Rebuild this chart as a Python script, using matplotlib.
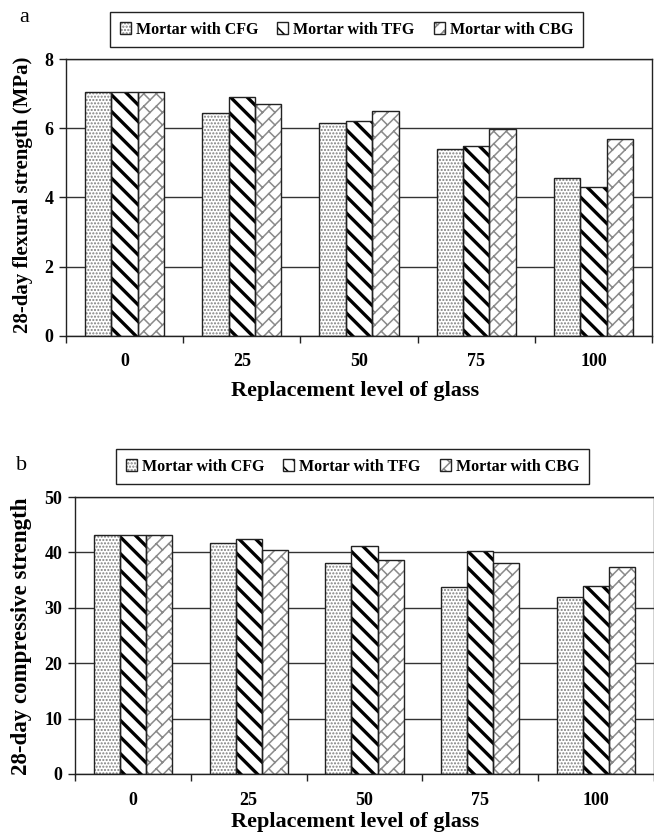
import matplotlib
matplotlib.use('Agg')
import matplotlib.pyplot as plt
import matplotlib.hatch as mhatch
from matplotlib.path import Path
import numpy as np

levels = ['0', '25', '50', '75', '100']
series = ['Mortar with CFG', 'Mortar with TFG', 'Mortar with CBG']

flexural_cfg = [7.05, 6.43, 6.16, 5.41, 4.57]
flexural_tfg = [7.05, 6.91, 6.22, 5.50, 4.30]
flexural_cbg = [7.05, 6.70, 6.49, 5.97, 5.68]

compressive_cfg = [43.2, 41.7, 38.1, 33.8, 31.9]
compressive_tfg = [43.2, 42.4, 41.1, 40.3, 34.0]
compressive_cbg = [43.2, 40.5, 38.6, 38.1, 37.4]


# diagonal brick texture, used in place of the '*' hatch
class BrickHatch(mhatch.HatchPatternBase):
    def __init__(self, hatch, density):
        self.n = 8 if '*' in hatch else 0
        self.segs = self.build() if self.n else []
        self.num_vertices = 2 * len(self.segs)

    def build(self):
        n = self.n
        p = n // 2
        segs = []
        for k in range(-n - 1, n + 1):
            c = k / n
            c2 = (k + 1) / n
            segs.append(((-1, -1 - c), (2, 2 - c)))
            for m in range(-2, 2 * p + 3):
                s = (m + 0.5 * (k % 2)) / p
                segs.append((((s - c) / 2, (s + c) / 2), ((s - c2) / 2, (s + c2) / 2)))
        return segs

    def set_vertices_and_codes(self, vertices, codes):
        vertices[:] = np.array(self.segs, dtype=float).reshape(-1, 2)
        codes[0::2] = Path.MOVETO
        codes[1::2] = Path.LINETO


mhatch._hatch_types = [h for h in mhatch._hatch_types if h is not mhatch.Stars] + [BrickHatch]

plt.rcParams['font.family'] = 'serif'
plt.rcParams['font.serif'] = ['Liberation Serif', 'DejaVu Serif']
plt.rcParams['font.weight'] = 'bold'

hatches = ['.....', '\\\\', '*']
hatch_colors = ['#808080', '#000000', '#8a8a8a']
hatch_widths = [1.0, 2.4, 1.1]

W, H = 654, 834
fig = plt.figure(figsize=(W / 100, H / 100), dpi=100)


def panel(rect, data, ymax, ystep, ylabel, ylab_size, lab, lab_xy, leg_xy, ylab_xy, xlab_y, xmax, pad):
    ax = fig.add_axes([rect[0] / W, 1 - rect[3] / H, (rect[2] - rect[0]) / W, (rect[3] - rect[1]) / H])
    x = np.arange(len(levels))
    w = 0.225
    handles = []
    for i, vals in enumerate(data):
        plt.rcParams['hatch.linewidth'] = hatch_widths[i]
        pos = x + (i - 1) * w
        b1 = ax.bar(pos, vals, w, color='white', edgecolor=hatch_colors[i], linewidth=0,
                    hatch=hatches[i], zorder=2)
        for p in b1:
            if hasattr(p, 'set_hatch_linewidth'):
                p.set_hatch_linewidth(hatch_widths[i])
        b2 = ax.bar(pos, vals, w, fill=False, edgecolor='#222222', linewidth=1.0, zorder=3)
        handles.append((b1, b2))

    ax.set_xlim(-0.5, xmax)
    ax.set_ylim(0, ymax)
    ax.set_yticks(np.arange(0, ymax + 0.01, ystep))
    ax.set_xticks(x)
    ax.set_xticklabels(levels)
    ax.set_xticks(np.arange(-0.5, 4.6, 1.0), minor=True)
    ax.tick_params(axis='x', which='major', length=0, labelsize=13, pad=pad)
    ax.tick_params(axis='x', which='minor', length=5, width=1, direction='out', color='#222222')
    ax.tick_params(axis='y', length=5, width=1, direction='out', labelsize=13, pad=4, color='#222222')
    ax.yaxis.grid(True, color='#333333', linewidth=1.0)
    ax.set_axisbelow(True)
    for s in ax.spines.values():
        s.set_color('#222222')
        s.set_linewidth(1.0)

    fig.text(ylab_xy[0] / W, 1 - ylab_xy[1] / H, ylabel, rotation=90, ha='center', va='center',
             fontsize=ylab_size, fontweight='bold')
    fig.text(355 / W, 1 - xlab_y / H, 'Replacement level of glass', ha='center', va='center',
             fontsize=16, fontweight='bold')
    fig.text(lab_xy[0] / W, 1 - lab_xy[1] / H, lab, ha='center', va='center', fontsize=16,
             fontweight='normal')

    fig.legend(handles, series, loc='upper left', bbox_to_anchor=(leg_xy[0] / W, 1 - leg_xy[1] / H),
               bbox_transform=fig.transFigure, ncol=3, frameon=True, fancybox=False,
               edgecolor='#222222', framealpha=1, borderaxespad=0, handlelength=0.7,
               handleheight=0.7, handletextpad=0.3, columnspacing=1.2, borderpad=0.6,
               prop={'size': 11.5, 'weight': 'bold'})
    return ax


panel((66, 59, 652, 336), [flexural_cfg, flexural_tfg, flexural_cbg], 8, 2,
      '28-day flexural strength (MPa)', 15, 'a', (24, 18), (110, 12), (23, 195), 391, 4.5, 12)
panel((75, 497, 654, 774), [compressive_cfg, compressive_tfg, compressive_cbg], 50, 10,
      '28-day compressive strength', 16.5, 'b', (22, 465), (116, 449), (22, 636), 822, 4.48, 13)

plt.savefig('out.png', dpi=100)
